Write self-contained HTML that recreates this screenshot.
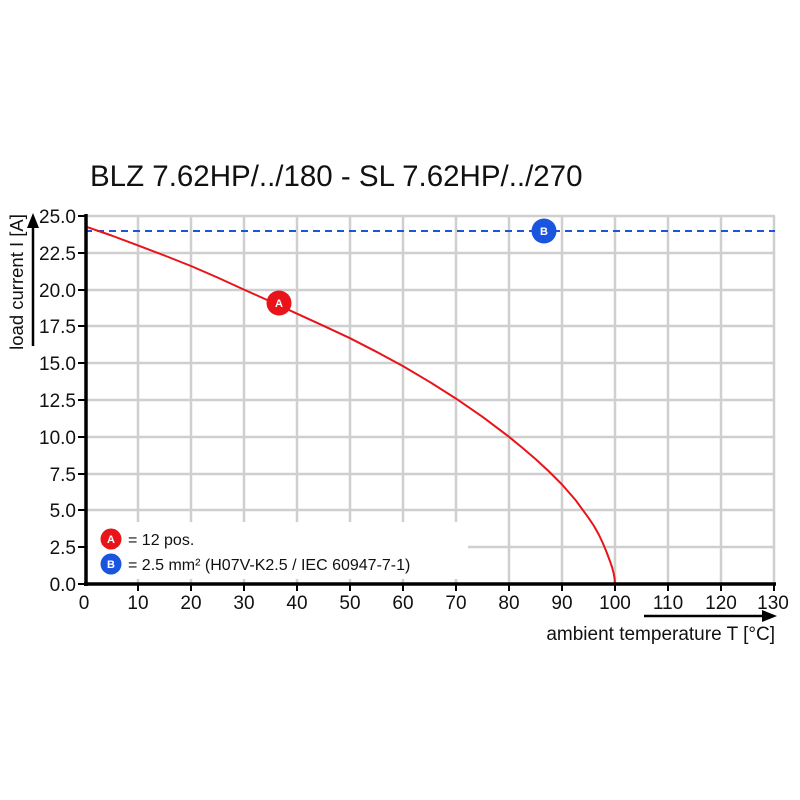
<!DOCTYPE html>
<html><head><meta charset="utf-8"><style>body{margin:0;background:#fff}svg{display:block;font-family:"Liberation Sans",Arial,sans-serif}</style></head><body>
<svg width="800" height="800" viewBox="0 0 800 800">
<rect width="800" height="800" fill="#fff"/>
<text x="90" y="186" font-size="29.5" fill="#111">BLZ 7.62HP/../180 - SL 7.62HP/../270</text>
<g stroke="#cfcfcf" stroke-width="2.5">
<line x1="138" y1="216" x2="138" y2="584"/><line x1="191" y1="216" x2="191" y2="584"/><line x1="244" y1="216" x2="244" y2="584"/><line x1="297" y1="216" x2="297" y2="584"/><line x1="350" y1="216" x2="350" y2="584"/><line x1="403" y1="216" x2="403" y2="584"/><line x1="456" y1="216" x2="456" y2="584"/><line x1="509" y1="216" x2="509" y2="584"/><line x1="562" y1="216" x2="562" y2="584"/><line x1="615" y1="216" x2="615" y2="584"/><line x1="668" y1="216" x2="668" y2="584"/><line x1="721" y1="216" x2="721" y2="584"/><line x1="774" y1="216" x2="774" y2="584"/>
<line x1="85" y1="216" x2="775" y2="216"/><line x1="85" y1="253" x2="775" y2="253"/><line x1="85" y1="290" x2="775" y2="290"/><line x1="85" y1="326" x2="775" y2="326"/><line x1="85" y1="363" x2="775" y2="363"/><line x1="85" y1="400" x2="775" y2="400"/><line x1="85" y1="437" x2="775" y2="437"/><line x1="85" y1="474" x2="775" y2="474"/><line x1="85" y1="510" x2="775" y2="510"/><line x1="85" y1="547" x2="775" y2="547"/>
</g>
<rect x="88" y="522" width="380" height="57" fill="#fff"/>
<line x1="85" y1="231" x2="775" y2="231" stroke="#1a55e0" stroke-width="2" stroke-dasharray="7,5"/>
<path d="M85,226.3 L111.5,235.5 L138,245.4 L164.5,255.5 L191,266 L217.5,277.5 L244,289.6 L270.5,301.5 L297,313.7 L323.5,325.8 L350,338.2 L376.5,351.8 L403,366.1 L429.5,381.8 L456,398.6 L482.5,416.8 L509,436.8 L522,447.5 L535.5,459 L549,471.5 L562,484.5 L575.5,500 L588.5,517.8 L594,526 L599,535 L603,543.5 L606.5,552 L609.7,560.4 L612,567 L613.6,573 L614.6,578.5 L615,584" fill="none" stroke="#e8141a" stroke-width="2" stroke-linejoin="round"/>
<g stroke="#000" stroke-width="3.5"><line x1="86" y1="214" x2="86" y2="586"/><line x1="84" y1="584" x2="776" y2="584"/></g>
<g stroke="#000" stroke-width="2">
<line x1="78" y1="216" x2="86" y2="216"/><line x1="78" y1="253" x2="86" y2="253"/><line x1="78" y1="290" x2="86" y2="290"/><line x1="78" y1="326" x2="86" y2="326"/><line x1="78" y1="363" x2="86" y2="363"/><line x1="78" y1="400" x2="86" y2="400"/><line x1="78" y1="437" x2="86" y2="437"/><line x1="78" y1="474" x2="86" y2="474"/><line x1="78" y1="510" x2="86" y2="510"/><line x1="78" y1="547" x2="86" y2="547"/><line x1="78" y1="584" x2="86" y2="584"/>
<line x1="138" y1="584" x2="138" y2="591"/><line x1="191" y1="584" x2="191" y2="591"/><line x1="244" y1="584" x2="244" y2="591"/><line x1="297" y1="584" x2="297" y2="591"/><line x1="350" y1="584" x2="350" y2="591"/><line x1="403" y1="584" x2="403" y2="591"/><line x1="456" y1="584" x2="456" y2="591"/><line x1="509" y1="584" x2="509" y2="591"/><line x1="562" y1="584" x2="562" y2="591"/><line x1="615" y1="584" x2="615" y2="591"/><line x1="668" y1="584" x2="668" y2="591"/><line x1="721" y1="584" x2="721" y2="591"/><line x1="774" y1="584" x2="774" y2="591"/>
</g>
<g font-size="19" fill="#111" text-anchor="end">
<text x="76" y="223">25.0</text><text x="76" y="260">22.5</text><text x="76" y="297">20.0</text><text x="76" y="333">17.5</text><text x="76" y="370">15.0</text><text x="76" y="407">12.5</text><text x="76" y="444">10.0</text><text x="76" y="481">7.5</text><text x="76" y="517">5.0</text><text x="76" y="554">2.5</text><text x="76" y="591">0.0</text>
</g>
<g font-size="19" fill="#111" text-anchor="middle">
<text x="84" y="609">0</text><text x="138" y="609">10</text><text x="191" y="609">20</text><text x="244" y="609">30</text><text x="297" y="609">40</text><text x="350" y="609">50</text><text x="403" y="609">60</text><text x="456" y="609">70</text><text x="509" y="609">80</text><text x="562" y="609">90</text><text x="615" y="609">100</text><text x="668" y="609">110</text><text x="721" y="609">120</text><text x="773" y="609">130</text>
</g>
<line x1="33" y1="346" x2="33" y2="226" stroke="#000" stroke-width="2.5"/><polygon points="33,213 27,228 39,228" fill="#000"/>
<text transform="translate(23,282) rotate(-90)" font-size="18.5" fill="#111" text-anchor="middle">load current I [A]</text>
<line x1="644" y1="616" x2="762" y2="616" stroke="#000" stroke-width="2.5"/><polygon points="777,616 762,610 762,622" fill="#000"/>
<text x="775" y="640" font-size="19" fill="#111" text-anchor="end">ambient temperature T [°C]</text>
<g font-weight="bold" font-size="11" fill="#fff" text-anchor="middle">
<circle cx="279" cy="303" r="12.5" fill="#e8141a"/><text x="279" y="307">A</text>
<circle cx="544" cy="231" r="12.5" fill="#1a55e0"/><text x="544" y="235">B</text>
<circle cx="111" cy="539" r="10.5" fill="#e8141a"/><text x="111" y="543">A</text>
<circle cx="111" cy="564" r="10.5" fill="#1a55e0"/><text x="111" y="568">B</text>
</g>
<text x="128" y="545" font-size="16" fill="#111">= 12 pos.</text>
<text x="128" y="570" font-size="16" fill="#111">= 2.5 mm² (H07V-K2.5 / IEC 60947-7-1)</text>
</svg>
</body></html>
